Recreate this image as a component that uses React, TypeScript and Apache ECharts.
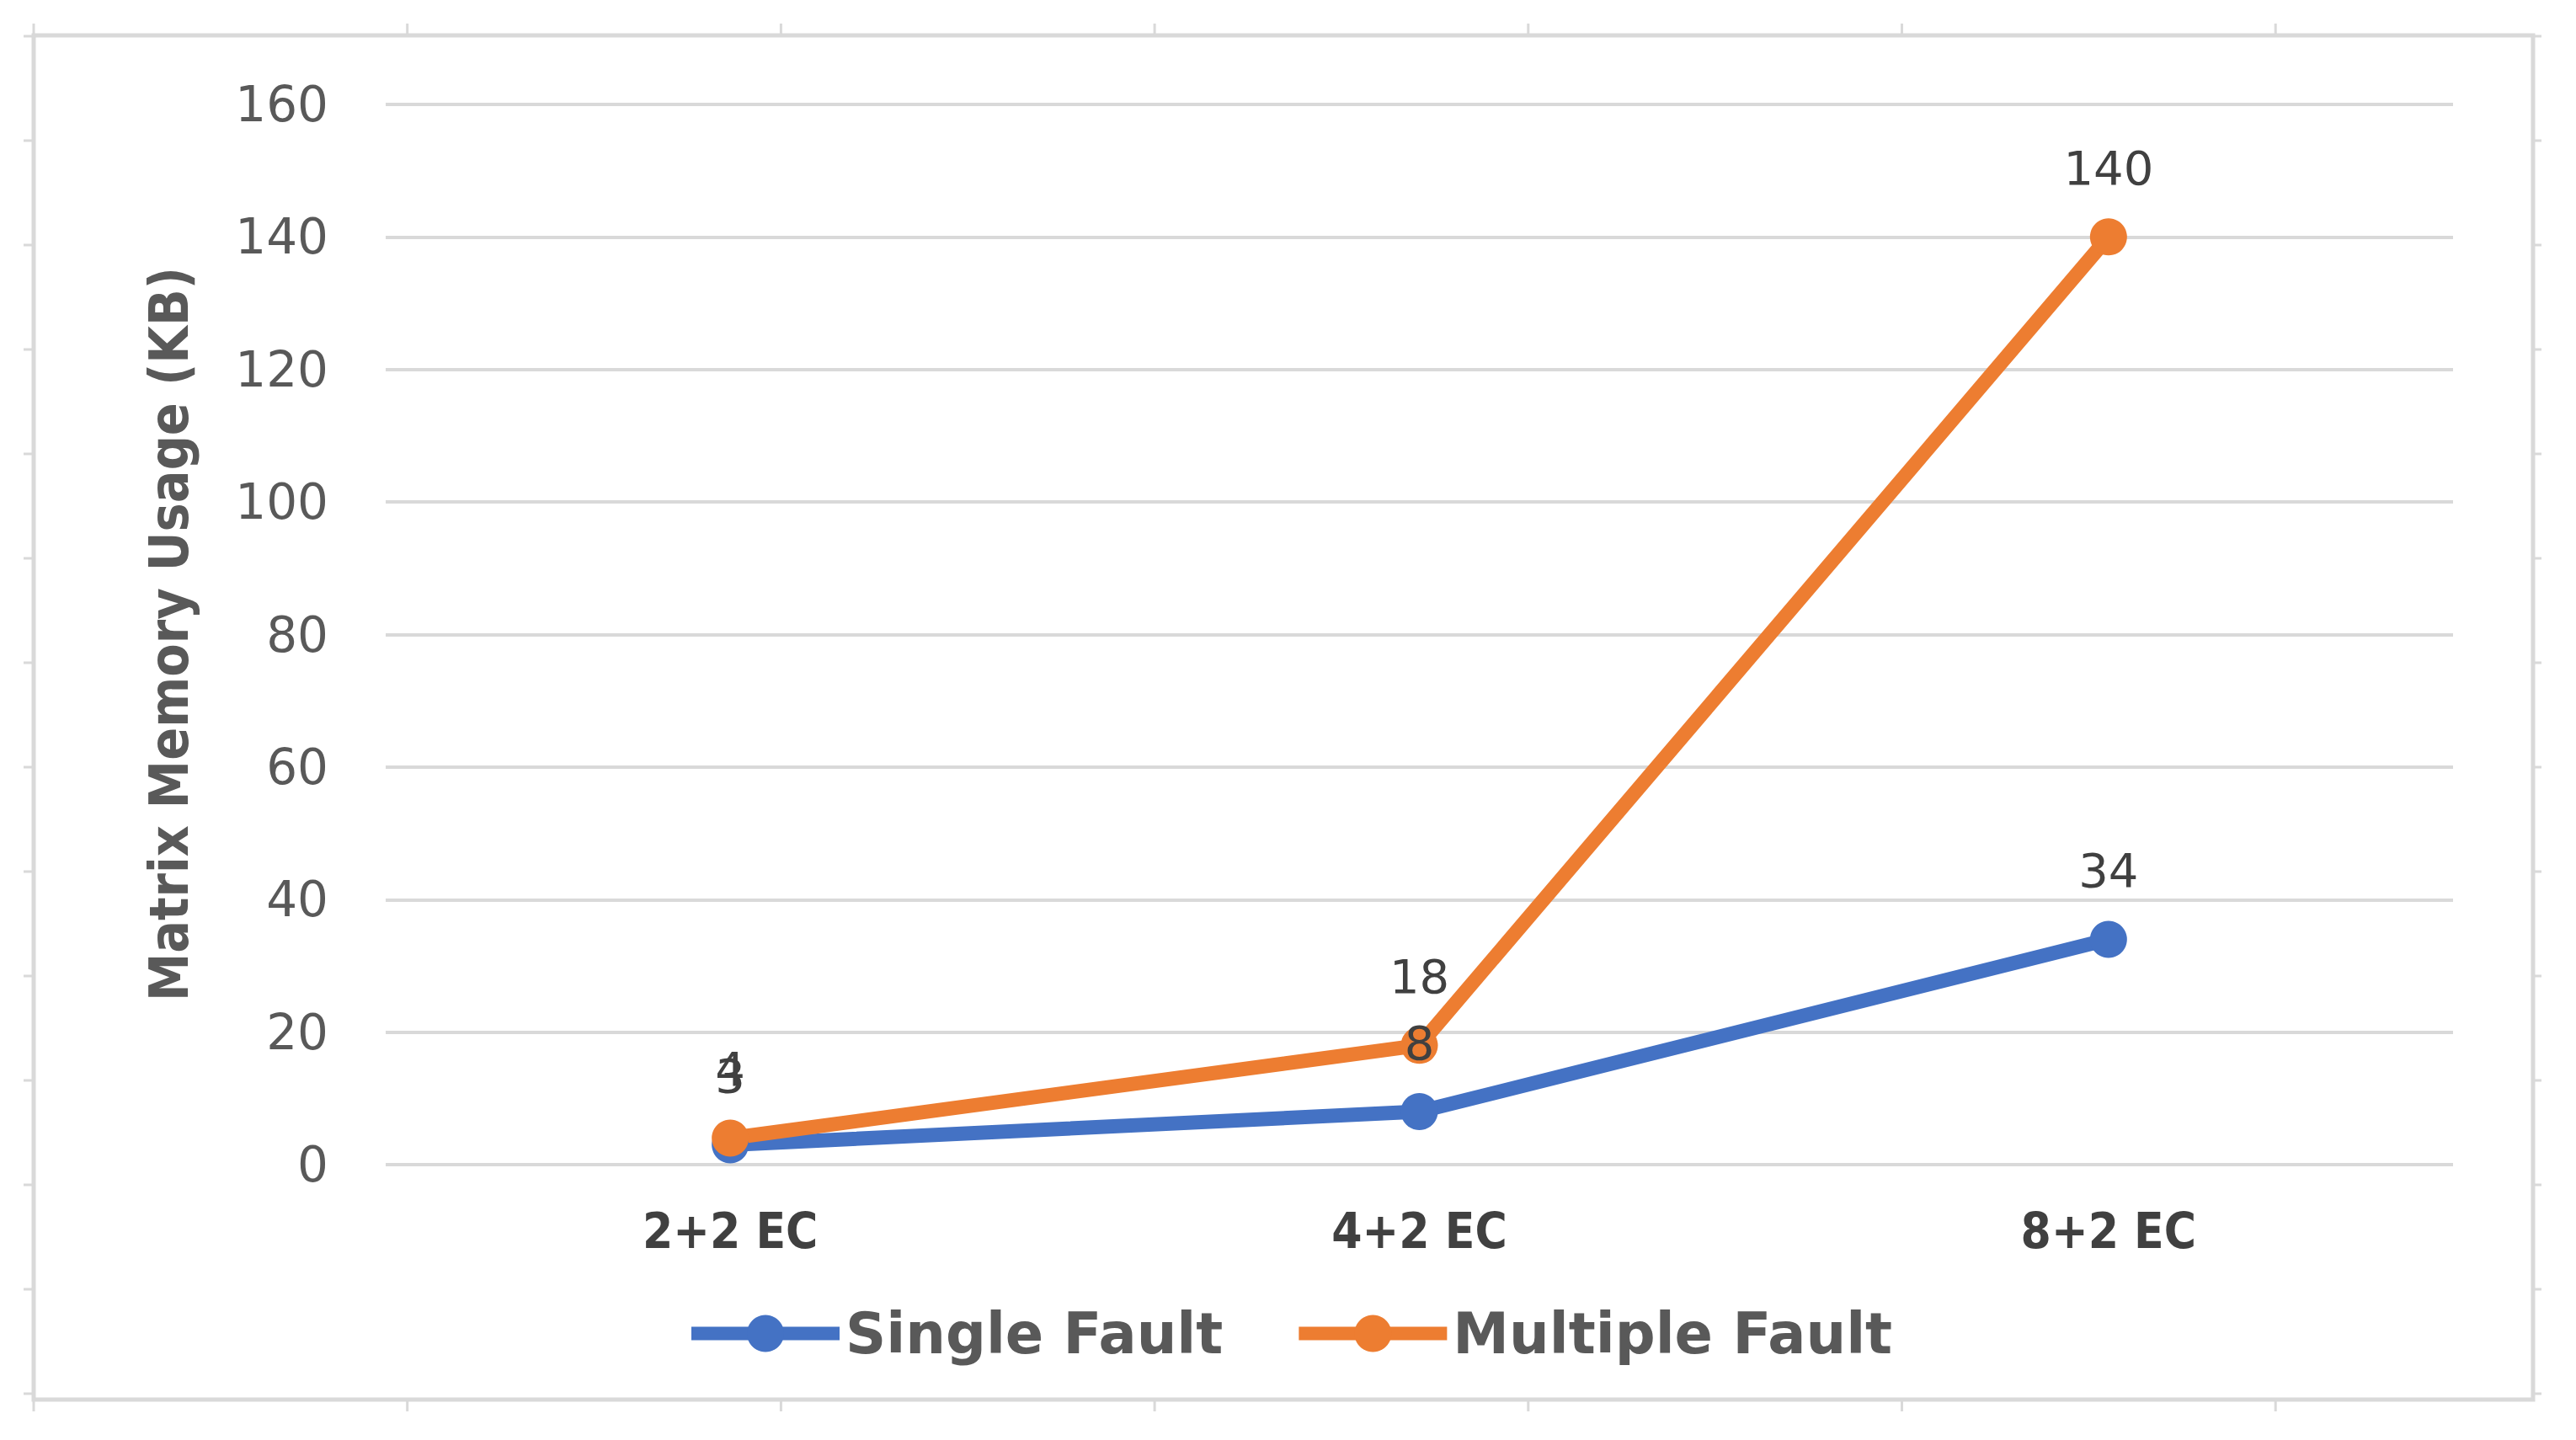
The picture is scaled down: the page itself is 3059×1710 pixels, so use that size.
import React, { useEffect, useRef } from "react";
import * as echarts from "echarts";

const categories = ["2+2 EC", "4+2 EC", "8+2 EC"];
const singleFault = [3, 8, 34];
const multipleFault = [4, 18, 140];
const seriesNames = ["Single Fault", "Multiple Fault"];
const yAxisTitle = "Matrix Memory Usage (KB)";
const yMin = 0;
const yMax = 160;
const yInterval = 20;

const W = 3059;
const H = 1710;

export default function App() {
  const ref = useRef<HTMLDivElement>(null);

  useEffect(() => {
    if (!ref.current) return;
    const chart = echarts.init(ref.current, null, { renderer: "svg" });
    const gray = "#d9d9d9";
    const frame = { x0: 40, y0: 42, x1: 3008, y1: 1662 };
    const graphics: any[] = [
      {
        type: "rect",
        shape: { x: frame.x0, y: frame.y0, width: frame.x1 - frame.x0, height: frame.y1 - frame.y0 },
        style: { fill: "none", stroke: gray, lineWidth: 5 },
        z: 0,
      },
    ];
    for (let k = 0; k < 7; k++) {
      const x = frame.x0 + k * 443.7;
      graphics.push({ type: "line", shape: { x1: x, y1: frame.y0 - 14, x2: x, y2: frame.y0 }, style: { stroke: gray, lineWidth: 3 } });
      graphics.push({ type: "line", shape: { x1: x, y1: frame.y1, x2: x, y2: frame.y1 + 14 }, style: { stroke: gray, lineWidth: 3 } });
    }
    for (let k = 0; k < 14; k++) {
      const y = 43 + k * 124;
      graphics.push({ type: "line", shape: { x1: frame.x0 - 12, y1: y, x2: frame.x0, y2: y }, style: { stroke: gray, lineWidth: 3 } });
      graphics.push({ type: "line", shape: { x1: frame.x1, y1: y, x2: frame.x1 + 10, y2: y }, style: { stroke: gray, lineWidth: 3 } });
    }
    graphics.push({
      type: "text",
      x: 201,
      y: 753,
      rotation: Math.PI / 2,
      style: {
        text: yAxisTitle,
        align: "center",
        verticalAlign: "middle",
        fontFamily: "DejaVu Sans Condensed",
        fontWeight: "bold",
        fontSize: 64,
        fill: "#595959",
      },
    });

    const labelStyle = {
      show: true,
      position: "top",
      distance: 32,
      fontFamily: "DejaVu Sans",
      fontSize: 56,
      color: "#404040",
    };

    chart.setOption({
      animation: false,
      backgroundColor: "#ffffff",
      graphic: graphics,
      grid: { left: 458, right: W - 2913, top: 124, bottom: H - 1383, containLabel: false },
      legend: {
        data: seriesNames,
        left: 808,
        top: 1545,
        orient: "horizontal",
        itemWidth: 176,
        itemHeight: 55,
        itemGap: 82,
        lineStyle: { width: 16 },
        textStyle: {
          fontFamily: "DejaVu Sans",
          fontWeight: "bold",
          fontSize: 67,
          color: "#595959",
          padding: [0, 0, 0, 2],
        },
      },
      xAxis: {
        type: "category",
        data: categories,
        boundaryGap: true,
        axisLine: { show: false },
        axisTick: { show: false },
        splitLine: { show: false },
        axisLabel: {
          margin: 50,
          fontFamily: "DejaVu Sans Condensed",
          fontWeight: "bold",
          fontSize: 58,
          color: "#404040",
        },
      },
      yAxis: {
        type: "value",
        min: yMin,
        max: yMax,
        interval: yInterval,
        axisLine: { show: false },
        axisTick: { show: false },
        splitLine: { show: true, lineStyle: { color: gray, width: 4 } },
        axisLabel: {
          margin: 68,
          fontFamily: "DejaVu Sans",
          fontSize: 58,
          color: "#595959",
        },
      },
      series: [
        {
          name: seriesNames[0],
          type: "line",
          data: singleFault,
          symbol: "circle",
          symbolSize: 44,
          lineStyle: { color: "#4472C4", width: 17 },
          itemStyle: { color: "#4472C4" },
          label: labelStyle,
        },
        {
          name: seriesNames[1],
          type: "line",
          data: multipleFault,
          symbol: "circle",
          symbolSize: 44,
          lineStyle: { color: "#ED7D31", width: 17 },
          itemStyle: { color: "#ED7D31" },
          label: labelStyle,
        },
      ],
    });

    return () => chart.dispose();
  }, []);

  return <div ref={ref} style={{ position: "fixed", left: 0, top: 0, width: W, height: H }} />;
}
